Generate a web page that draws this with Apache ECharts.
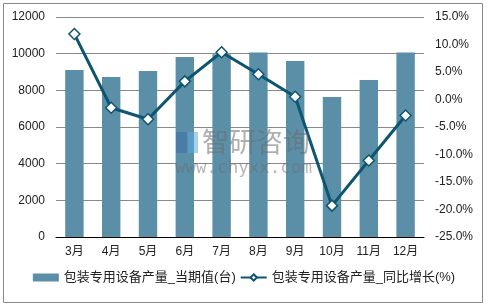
<!DOCTYPE html>
<html>
<head>
<meta charset="utf-8">
<script src="https://cdn.jsdelivr.net/npm/echarts@6/dist/echarts.min.js"></script>
<style>html,body{margin:0;padding:0;background:#fff}#c{width:488px;height:308px}</style>
</head>
<body>
<div id="c"></div>
<script>
const categories = ['3月','4月','5月','6月','7月','8月','9月','10月','11月','12月'];
const outputValues = [9110, 8730, 9060, 9820, 9970, 10060, 9600, 7640, 8570, 10060];
const yoyGrowth = [11.9, -1.5, -3.6, 3.3, 8.6, 4.6, 0.5, -19.3, -11.1, -2.9];
const barName = '包装专用设备产量_当期值(台)';
const lineName = '包装专用设备产量_同比增长(%)';

const font = '"Liberation Sans", "Noto Sans CJK SC", sans-serif';
const chart = echarts.init(document.getElementById('c'), null, {renderer: 'canvas'});
chart.setOption({
  animation: false,
  backgroundColor: '#fff',
  textStyle: {fontFamily: font},
  grid: {left: 56, right: 64, top: 17, bottom: 71, containLabel: false},
  legend: {
    bottom: 19,
    left: 'center',
    itemGap: 4,
    itemWidth: 26,
    itemHeight: 8,
    textStyle: {fontSize: 13, color: '#222', fontFamily: font},
    data: [
      {name: barName, icon: 'rect'},
      {name: lineName}
    ]
  },
  xAxis: {
    type: 'category',
    data: categories,
    axisLine: {lineStyle: {color: '#000', width: 1}},
    axisTick: {show: false},
    axisLabel: {fontSize: 12, color: '#222', margin: 9}
  },
  yAxis: [
    {
      type: 'value', min: 0, max: 12000, interval: 2000,
      axisLine: {show: false}, axisTick: {show: false},
      axisLabel: {fontSize: 12, color: '#222', margin: 11, formatter: v => String(v)},
      splitLine: {lineStyle: {color: '#888', width: 1}}
    },
    {
      type: 'value', min: -25, max: 15, interval: 5,
      axisLine: {show: false}, axisTick: {show: false},
      axisLabel: {fontSize: 12, color: '#222', margin: 11, formatter: v => v.toFixed(1) + '%'},
      splitLine: {show: false}
    }
  ],
  series: [
    {
      name: barName, type: 'bar', data: outputValues, barWidth: '50%',
      itemStyle: {color: '#5b8fa8'}
    },
    {
      name: lineName, type: 'line', yAxisIndex: 1, data: yoyGrowth,
      symbol: 'diamond', symbolSize: 11,
      lineStyle: {color: '#0d5570', width: 3},
      itemStyle: {color: '#fff', borderColor: '#0d5570', borderWidth: 1.5},
      z: 5
    }
  ],
  graphic: [
    {type: 'rect', shape: {x: 3.5, y: 3.5, width: 479, height: 299}, style: {fill: 'none', stroke: '#888', lineWidth: 1}, silent: true},
    {type: 'rect', z: 100, silent: true, shape: {x: 176, y: 132, width: 11, height: 21}, style: {fill: 'rgba(60,110,170,0.55)'}},
    {type: 'rect', z: 100, silent: true, shape: {x: 188, y: 132, width: 10, height: 21}, style: {fill: 'rgba(90,170,220,0.55)'}},
    {type: 'text', z: 100, silent: true, style: {x: 202, y: 128, text: '智研咨询', font: '27px "Noto Sans CJK SC"', fill: 'rgba(110,110,110,0.55)'}},
    {type: 'text', z: 100, silent: true, style: {x: 175, y: 159, text: 'www.chyxx.com', font: '17.5px "DejaVu Sans Mono"', fill: 'rgba(110,110,110,0.5)'}}
  ]
});
</script>
</body>
</html>
